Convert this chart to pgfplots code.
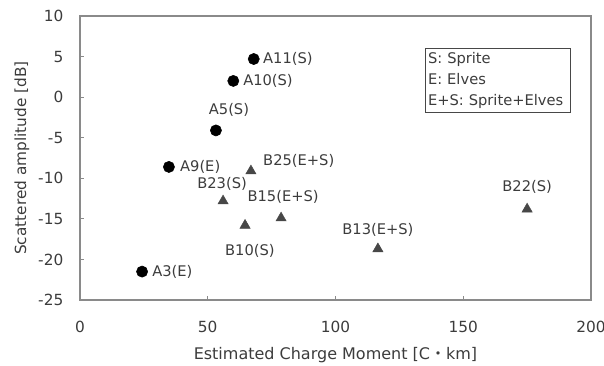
\documentclass[border=0pt]{standalone}
\usepackage{fontspec}
\setmainfont{DejaVu Sans}
\newfontfamily\cjk{Noto Sans CJK JP}
\usepackage{pgfplots}
\pgfplotsset{compat=1.18}
\definecolor{txt}{HTML}{3C3C3C}
\definecolor{axc}{HTML}{8A8A8A}
\definecolor{tri}{HTML}{474747}
\begin{document}
\begin{tikzpicture}
\begin{axis}[
    scale only axis,
    width=383.25pt, height=213pt,
    xmin=0, xmax=200, ymin=-25, ymax=10,
    xtick={0,50,100,150,200}, ytick={-25,-20,...,10},
    axis line style={axc, line width=1pt},
    tick style={axc, line width=0.9pt},
    major tick length=3pt,
    xtick pos=bottom, ytick pos=left,
    xticklabel style={font=\fontsize{11.5}{13}\selectfont, text=txt, anchor=center, yshift=-20pt},
    yticklabel style={font=\fontsize{11.5}{13}\selectfont, text=txt, anchor=east, xshift=-9pt},
    /pgf/number format/assume math mode=true,
    xlabel={Estimated Charge Moment [C{\cjk ・}km]},
    ylabel={Scattered amplitude [dB]},
    xlabel style={font=\fontsize{12}{13}\selectfont, text=txt, anchor=center,
        at={([yshift=-41pt]rel axis cs:0.5,0)}},
    ylabel style={font=\fontsize{11.5}{13}\selectfont, text=txt, anchor=center,
        at={([xshift=-43.5pt]rel axis cs:0,0.5)}},
    clip=false,
]
% A events (circles)
\addplot[only marks, mark=*, mark size=4.2pt, black] coordinates {
    (68,4.7) (60,2.0) (53.2,-4.1) (34.8,-8.6) (24.3,-21.5)
};
% B events (triangles)
\addplot[only marks, mark=triangle*, mark size=4.4pt, tri] coordinates {
    (66.9,-9.1) (56,-12.8) (64.6,-15.8) (78.7,-14.9) (116.6,-18.7) (175,-13.8)
};
\begin{scope}[every node/.style={font=\fontsize{11}{13}\selectfont, text=txt, inner sep=0pt}]
\node[anchor=west] at (axis cs:71.6,4.7) {A11(S)};
\node[anchor=west] at (axis cs:63.8,2.0) {A10(S)};
\node at (axis cs:58.3,-1.6) {A5(S)};
\node[anchor=west] at (axis cs:39.1,-8.6) {A9(E)};
\node[anchor=west] at (axis cs:28.2,-21.5) {A3(E)};
\node[anchor=west] at (axis cs:71.6,-7.8) {B25(E+S)};
\node at (axis cs:55.6,-10.7) {B23(S)};
\node at (axis cs:79.5,-12.3) {B15(E+S)};
\node at (axis cs:66.5,-19.0) {B10(S)};
\node at (axis cs:116.6,-16.4) {B13(E+S)};
\node at (axis cs:175,-11.1) {B22(S)};
\end{scope}
\node[draw=tri, line width=0.8pt, anchor=north west, align=left,
      inner xsep=2pt, inner ysep=3pt,
      font=\fontsize{11}{15.75}\selectfont, text=txt, text width=104.5pt]
    at (rel axis cs:0.675,0.887) {S: Sprite\\E: Elves\\E+S: Sprite+Elves};
\end{axis}
\pgfresetboundingbox
\path[use as bounding box] ([shift={(-60pt,-48.75pt)}]current axis.south west)
    rectangle ([shift={(9.75pt,12pt)}]current axis.north east);
\end{tikzpicture}
\end{document}
